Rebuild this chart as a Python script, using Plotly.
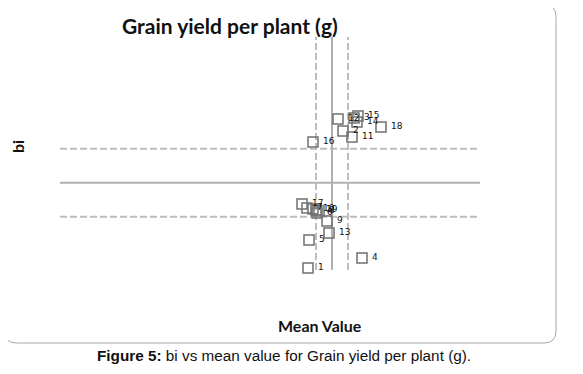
import plotly.graph_objects as go

# ---- data ----
genotypes = [str(i) for i in range(1, 20)]
mean_value = [24.8, 28.3, 29.4, 30.2, 24.9, 25.7, 24.7, 25.9, 26.7, 25.3,
              29.2, 27.8, 26.9, 29.7, 29.8, 25.3, 24.2, 32.1, 25.6]
bi_values = [0.147, 1.517, 1.647, 0.247, 0.427, 0.697, 0.747, 0.717, 0.617, 0.737,
             1.457, 1.637, 0.497, 1.607, 1.667, 1.407, 0.787, 1.557, 0.727]
grand_mean = 27.2
mean_se = 1.6
bi_ref = 1.0
bi_se = 0.34

title_text = "Grain yield per plant (g)"
x_title = "Mean Value"
y_title = "bi"
caption = "<b>Figure 5:</b> bi vs mean value for Grain yield per plant (g)."

# ---- layout geometry (page body has an 8px margin) ----
OFF = 8
W, H = 583 - OFF, 374 - OFF
L, R, T, B = 60 - OFF, 480 - OFF, 37 - OFF, 270 - OFF
x_range = [0, 42]
y_range = [1 - (270 - 182.7) / 100, 1 + (182.7 - 37) / 100]


def px(x):
    return (x - OFF - L) / (R - L)


def py(y):
    return (B - (y - OFF)) / (B - T)


fig = go.Figure()

fig.add_trace(go.Scatter(
    x=mean_value, y=bi_values, mode="markers+text", text=genotypes,
    texttemplate="&nbsp;%{text}",
    textposition="middle right",
    textfont=dict(family="DejaVu Sans", size=9, color="#111"),
    marker=dict(symbol="square-open", size=10, color="#707070",
                line=dict(width=1.5, color="#707070")),
    cliponaxis=False, showlegend=False, hoverinfo="skip"))

dash_style = dict(color="#bdbdbd", width=2, dash="7px,3px")
solid_style = dict(color="#b0b0b0", width=2)

shapes = []
for yv, st in [(bi_ref, solid_style), (bi_ref + bi_se, dash_style), (bi_ref - bi_se, dash_style)]:
    shapes.append(dict(type="line", xref="paper", yref="y", x0=0, x1=1, y0=yv, y1=yv,
                       line=st, layer="below"))
for xv, st in [(grand_mean, solid_style), (grand_mean - mean_se, dash_style), (grand_mean + mean_se, dash_style)]:
    shapes.append(dict(type="line", xref="x", yref="paper", x0=xv, x1=xv, y0=0, y1=1,
                       line=st, layer="below"))

# rounded frame
bx0, bx1, by0, by1, rr = 4.5, 556, 4.5, 343, 12
path = (f"M {px(bx0 + rr)},{py(by0)} L {px(bx1 - rr)},{py(by0)} "
        f"Q {px(bx1)},{py(by0)} {px(bx1)},{py(by0 + rr)} "
        f"L {px(bx1)},{py(by1 - rr)} Q {px(bx1)},{py(by1)} {px(bx1 - rr)},{py(by1)} "
        f"L {px(bx0 + rr)},{py(by1)} Q {px(bx0)},{py(by1)} {px(bx0)},{py(by1 - rr)} "
        f"L {px(bx0)},{py(by0 + rr)} Q {px(bx0)},{py(by0)} {px(bx0 + rr)},{py(by0)} Z")
shapes.append(dict(type="path", xref="paper", yref="paper", path=path,
                   line=dict(color="#a8a8a8", width=1), layer="below"))

annotations = [
    dict(text=f"<b>{title_text}</b>", x=px(229.5), y=py(25), xref="paper", yref="paper",
         showarrow=False, font=dict(family="Lato", size=21, color="#111"),
         xanchor="center", yanchor="middle"),
    dict(text=f"<b>{x_title}</b>", x=px(320), y=py(325), xref="paper", yref="paper",
         showarrow=False, font=dict(family="Lato", size=16, color="#111"),
         xanchor="center", yanchor="middle"),
    dict(text=f"<b>{y_title}</b>", x=px(17), y=py(147), xref="paper", yref="paper",
         showarrow=False, textangle=-90, font=dict(family="Lato", size=16, color="#111"),
         xanchor="center", yanchor="middle"),
    dict(text=caption, x=px(284), y=py(355), xref="paper", yref="paper",
         showarrow=False, font=dict(family="Liberation Sans", size=15.3, color="#111"),
         xanchor="center", yanchor="middle"),
]

fig.update_layout(
    width=W, height=H,
    margin=dict(l=L, r=W - R, t=T, b=H - B, pad=0),
    paper_bgcolor="white", plot_bgcolor="white",
    xaxis=dict(range=x_range, visible=False, fixedrange=True),
    yaxis=dict(range=y_range, visible=False, fixedrange=True),
    shapes=shapes, annotations=annotations,
)

fig.write_html("out.html")
